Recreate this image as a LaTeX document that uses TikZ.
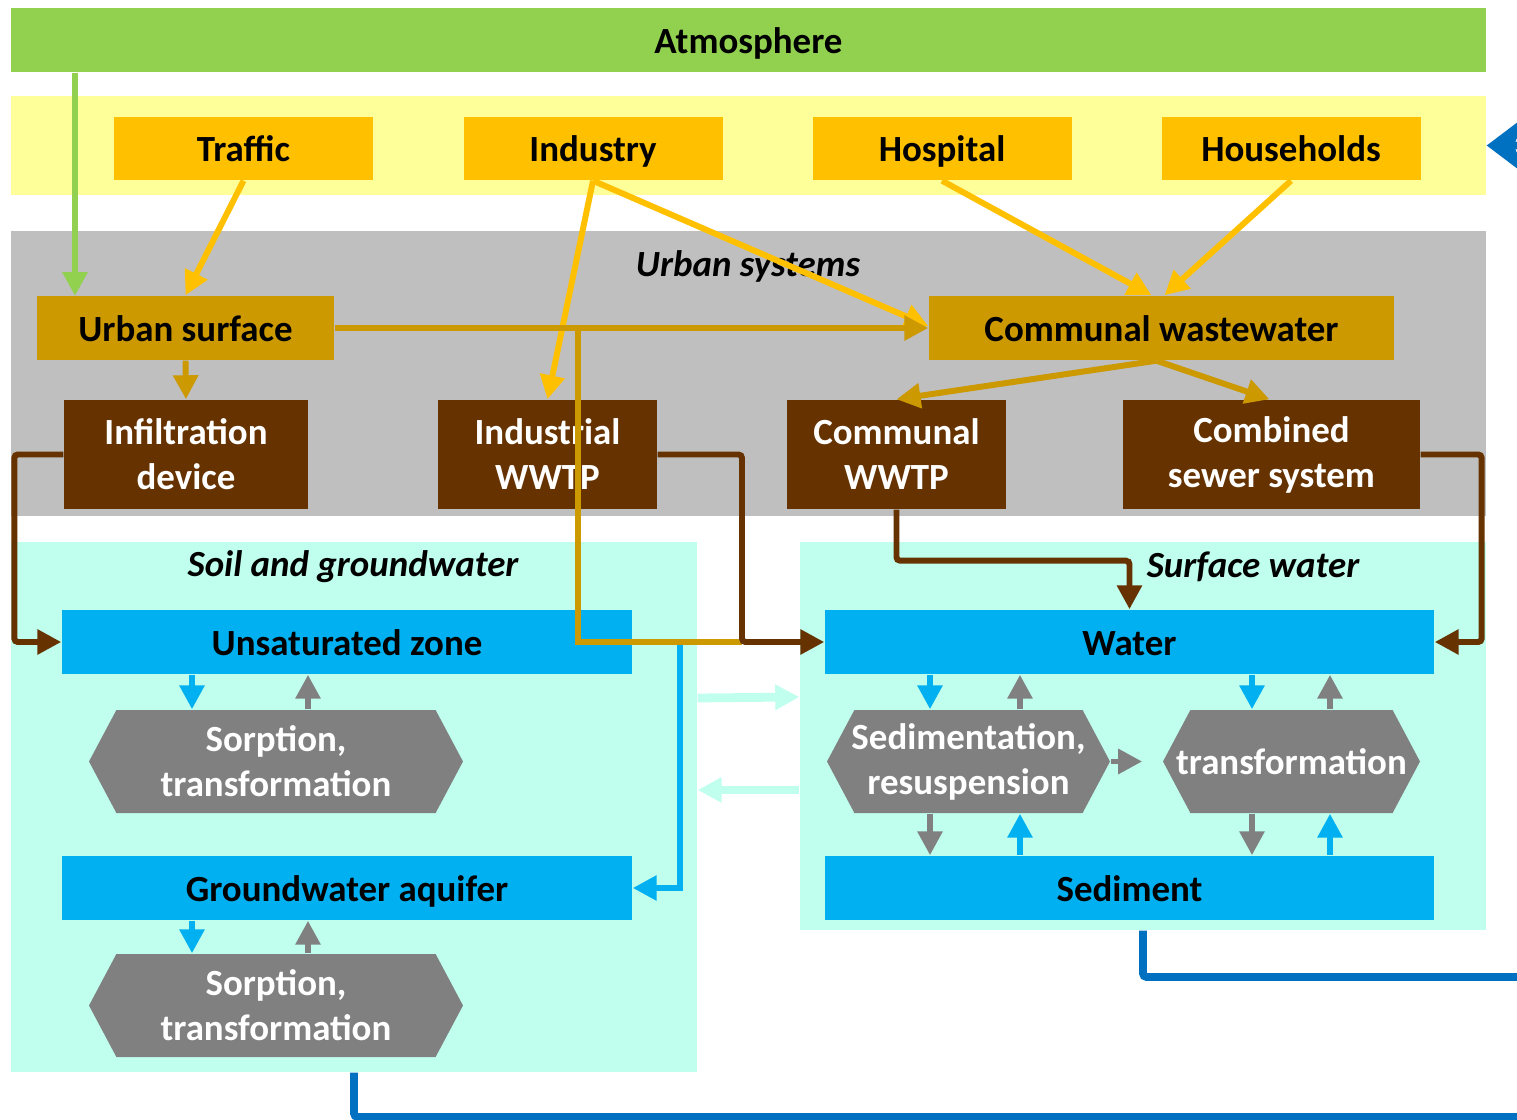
\documentclass[tikz,border=0pt]{standalone}
\usepackage{fontspec}
\setmainfont{Carlito}
\usetikzlibrary{arrows.meta,positioning,calc,shapes.symbols}

\definecolor{atmosgreen}{RGB}{146,208,80}
\definecolor{srcband}{RGB}{255,255,153}
\definecolor{srcorange}{RGB}{255,192,0}
\definecolor{urbgold}{RGB}{204,153,0}
\definecolor{plantbrown}{RGB}{102,51,0}
\definecolor{urbgray}{RGB}{191,191,191}
\definecolor{mint}{RGB}{192,255,238}
\definecolor{zoneblue}{RGB}{0,176,240}
\definecolor{retblue}{RGB}{0,112,192}
\definecolor{procgray}{RGB}{128,128,128}

\begin{document}
\begin{tikzpicture}[
    font=\fontsize{10.5}{12.8}\selectfont\bfseries,
    box/.style={rectangle, fill=#1, inner sep=0pt, minimum height=0.64cm, align=center},
    bar/.style={box=#1, text height=0.8em, text depth=0.04em},
    src/.style={bar=srcorange, minimum width=2.59cm, minimum height=0.63cm},
    plant/.style={box=plantbrown, text=white, minimum height=1.09cm},
    zone/.style={bar=zoneblue, minimum height=0.64cm},
    proc/.style={signal, signal to=west and east, signal pointer angle=124, fill=procgray, text=white, inner ysep=0pt, inner xsep=-6mm, minimum height=1.03cm, align=center},
    ttl/.style={font=\fontsize{10.5}{12.8}\selectfont\bfseries\itshape},
    arr/.style={-{Triangle[length=2.4mm, width=2.4mm]}, line width=1.7pt, color=#1},
    arr/.default=urbgold,
    pipe/.style={line width=1.7pt, color=#1},
    exch/.style={-{Triangle[length=2.4mm, width=2.4mm]}, line width=2.5pt, color=mint},
    ret/.style={line width=2.2pt, color=retblue, rounded corners=1pt}
]
\useasboundingbox (0,0) rectangle (15.17,-11.2);
\clip (0,0) rectangle (15.17,-11.2);

% Backgrounds
\node[bar=atmosgreen, minimum width=14.75cm] (atmos) at (7.485,-0.40) {Atmosphere};
\node[box=srcband, minimum width=14.75cm, minimum height=0.99cm] (band) at (7.485,-1.455) {};
\node[box=urbgray, minimum width=14.75cm, minimum height=2.85cm] (urban) at (7.485,-3.735) {};
\node[ttl] at (7.48,-2.66) {Urban systems};
\node[box=mint, minimum width=6.86cm, minimum height=5.30cm] (soil) at (3.54,-8.07) {};
\node[box=mint, minimum width=6.86cm, minimum height=3.88cm] (surface) at (11.43,-7.36) {};
\node[ttl] at (3.53,-5.67) {Soil and groundwater};
\node[ttl] at (12.53,-5.67) {Surface water};

% Sources
\node[src] (traffic) at (2.435,-1.485) {Traffic};
\node[src] (industry) at (5.93,-1.485) {Industry};
\node[src] (hospital) at (9.42,-1.485) {Hospital};
\node[src] (households) at (12.91,-1.485) {Households};

% Urban systems
\node[bar=urbgold, minimum width=2.97cm] (urbsurf) at (1.855,-3.28) {Urban surface};
\node[bar=urbgold, minimum width=4.65cm] (commww) at (11.615,-3.28) {Communal wastewater};
\node[plant, minimum width=2.44cm] (infil) at (1.86,-4.545) {Infiltration\\device};
\node[plant, minimum width=2.19cm] (indwwtp) at (5.475,-4.545) {Industrial\\WWTP};
\node[plant, minimum width=2.19cm] (commwwtp) at (8.965,-4.545) {Communal\\WWTP};
\node[plant, minimum width=2.97cm] (sewer) at (12.715,-4.545) {Combined\\sewer system};

% Soil and groundwater
\node[zone, minimum width=5.70cm] (unsat) at (3.47,-6.42) {Unsaturated zone};
\node[zone, minimum width=5.70cm] (aquifer) at (3.47,-8.88) {Groundwater aquifer};
\node[proc, minimum width=3.74cm] (sorp1) at (2.76,-7.615) {Sorption,\\transformation};
\node[proc, minimum width=3.74cm] (sorp2) at (2.76,-10.055) {Sorption,\\transformation};

% Surface water
\node[zone, minimum width=6.09cm] (water) at (11.295,-6.42) {Water};
\node[zone, minimum width=6.09cm] (sediment) at (11.295,-8.88) {Sediment};
\node[proc, minimum width=2.83cm] (sedres) at (9.685,-7.615) {Sedimentation,\\resuspension};
\node[proc, minimum width=2.57cm] (transf) at (12.915,-7.615) {transformation};

\coordinate (atin) at (0.75,-2.96);
\coordinate (runoff) at (5.78,-3.28);
\coordinate (jn) at (7.42,-6.42);
\coordinate (seep) at (6.80,-6.42);

% Emissions
\draw[arr=atmosgreen] (atmos.south -| atin) -- (atin);
\draw[arr=srcorange] (traffic.south) -- (urbsurf.north);
\draw[arr=srcorange] (industry.south) -- (indwwtp.north);
\draw[arr=srcorange] (industry.south) -- ($(commww.west)+(0,0.02)$);
\draw[arr=srcorange] (hospital.south) -- ($(commww.north)+(-0.1,0)$);
\draw[arr=srcorange] (households.south) -- ($(commww.north)+(0.03,0)$);

% Urban flows
\draw[arr] (urbsurf.east) -- (commww.west);
\draw[arr] (urbsurf.south) -- (infil.north);
\draw[arr] ($(commww.south)+(-0.05,0)$) -- (commwwtp.north);
\draw[arr] ($(commww.south)+(-0.05,0)$) -- ($(sewer.north)+(-0.02,0)$);
\draw[arr=zoneblue] (seep) |- (aquifer.east);
\draw[pipe=urbgold] (runoff) |- (jn);

% Discharges
\draw[arr=plantbrown, rounded corners=1pt] (infil.west) -- ++(-0.49,0) |- (unsat.west);
\draw[arr=plantbrown, rounded corners=1pt] (indwwtp.east) -| (jn) -- (water.west);
\draw[arr=plantbrown, rounded corners=1pt] (commwwtp.south) -- ++(0,-0.51) -| (water.north);
\draw[arr=plantbrown, rounded corners=1pt] (sewer.east) -- ++(0.61,0) |- (water.east);

% Exchange between compartments
\draw[exch] (soil.east |- 0,-6.98) -- (surface.west |- 0,-6.97);
\draw[exch] (surface.west |- 0,-7.90) -- (soil.east |- 0,-7.90);

% Soil processes
\draw[arr=zoneblue] (unsat.south -| 1.92,0) -- (sorp1.north -| 1.92,0);
\draw[arr=procgray] (sorp1.north -| 3.08,0) -- (unsat.south -| 3.08,0);
\draw[arr=zoneblue] (aquifer.south -| 1.92,0) -- (sorp2.north -| 1.92,0);
\draw[arr=procgray] (sorp2.north -| 3.08,0) -- (aquifer.south -| 3.08,0);

% Surface water processes
\draw[arr=zoneblue] (water.south -| 9.30,0) -- (sedres.north -| 9.30,0);
\draw[arr=procgray] (sedres.north -| 10.20,0) -- (water.south -| 10.20,0);
\draw[arr=procgray] (sedres.south -| 9.30,0) -- (sediment.north -| 9.30,0);
\draw[arr=zoneblue] (sediment.north -| 10.20,0) -- (sedres.south -| 10.20,0);
\draw[arr=zoneblue] (water.south -| 12.52,0) -- (transf.north -| 12.52,0);
\draw[arr=procgray] (transf.north -| 13.30,0) -- (water.south -| 13.30,0);
\draw[arr=procgray] (transf.south -| 12.52,0) -- (sediment.north -| 12.52,0);
\draw[arr=zoneblue] (sediment.north -| 13.30,0) -- (transf.south -| 13.30,0);
\draw[arr=procgray] (sedres.east) -- ([xshift=-2mm]transf.west);

% Return to the sources
\draw[ret] (surface.south) |- (15.45,-9.77);
\draw[ret, -{Stealth[length=4mm, width=6mm]}] (soil.south) |- (15.45,-11.17) |- (band.east);

\end{tikzpicture}
\end{document}
